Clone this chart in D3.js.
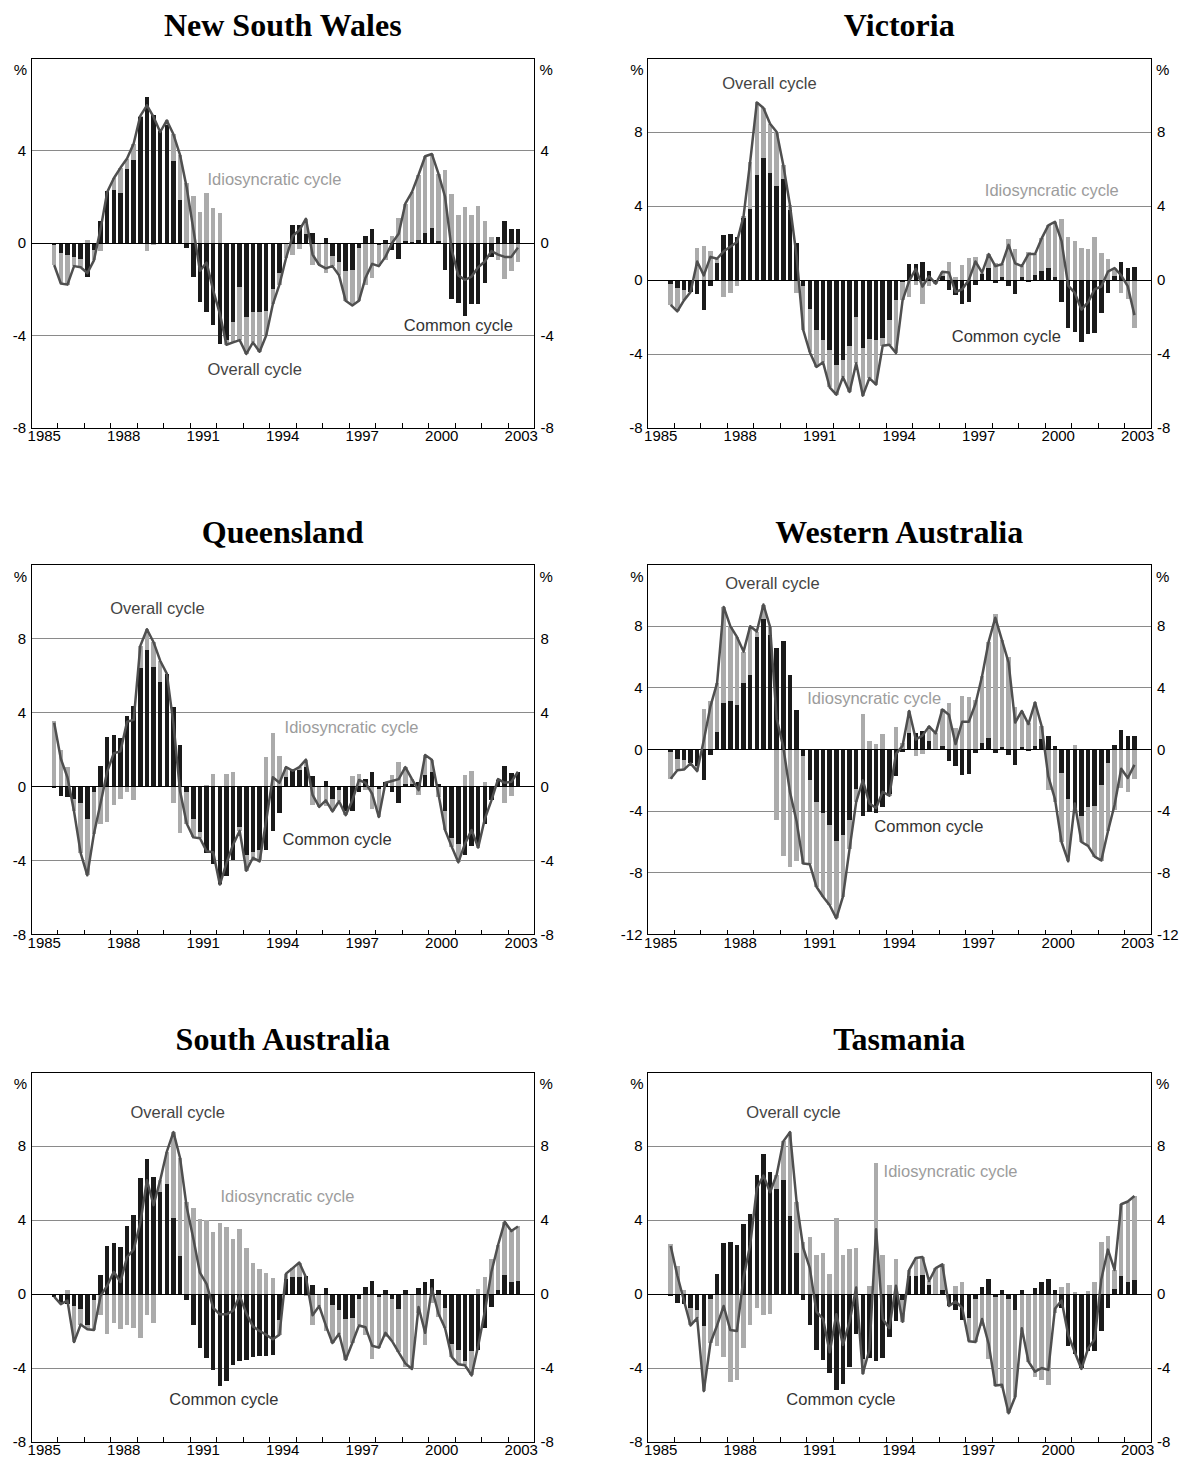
<!DOCTYPE html>
<html>
<head>
<meta charset="utf-8">
<script src="https://cdn.jsdelivr.net/npm/d3@7"></script>
<style>
  body { margin: 0; background: #fff; }
  text { font-family: 'Liberation Sans', Arial, sans-serif; }
</style>
</head>
<body>
<script>
const W = 1185, H = 1458;

// quarterly observations, 1985Q4 to 2003Q2
const quarters = [
  '1985Q4',
  '1986Q1','1986Q2','1986Q3','1986Q4','1987Q1','1987Q2','1987Q3','1987Q4',
  '1988Q1','1988Q2','1988Q3','1988Q4','1989Q1','1989Q2','1989Q3','1989Q4',
  '1990Q1','1990Q2','1990Q3','1990Q4','1991Q1','1991Q2','1991Q3','1991Q4',
  '1992Q1','1992Q2','1992Q3','1992Q4','1993Q1','1993Q2','1993Q3','1993Q4',
  '1994Q1','1994Q2','1994Q3','1994Q4','1995Q1','1995Q2','1995Q3','1995Q4',
  '1996Q1','1996Q2','1996Q3','1996Q4','1997Q1','1997Q2','1997Q3','1997Q4',
  '1998Q1','1998Q2','1998Q3','1998Q4','1999Q1','1999Q2','1999Q3','1999Q4',
  '2000Q1','2000Q2','2000Q3','2000Q4','2001Q1','2001Q2','2001Q3','2001Q4',
  '2002Q1','2002Q2','2002Q3','2002Q4','2003Q1','2003Q2'
];
const yearLabels = [1985, 1988, 1991, 1994, 1997, 2000, 2003];

const nswCommon = [-0.1,-0.45,-0.5,-0.6,-0.7,-1.45,-0.3,0.95,2.25,2.3,2.15,3.2,3.6,5.45,6.3,5.55,4.85,5.1,3.55,1.85,
  -0.2,-1.45,-2.55,-3.0,-3.55,-4.35,-4.2,-3.4,-1.9,-3.2,-3.0,-3.0,-2.95,-2.0,-1.3,-0.05,0.8,0.8,0.4,0.45,
  -0.05,0.2,-0.55,-0.8,-1.2,-1.15,-0.2,0.3,0.6,-0.1,0.15,-0.3,-0.7,0.1,0.05,0.15,0.45,0.65,0.1,-1.15,
  -2.4,-2.6,-3.15,-2.65,-2.65,-1.75,-0.6,0.25,0.95,0.6,0.6];
const nswIdio = [-0.85,-1.3,-1.3,-0.4,-0.35,0.15,-0.45,-0.35,-0.05,0.5,1.1,0.45,0.7,0.05,-0.35,-0.1,-0.05,0.2,1.15,1.95,
  2.6,2.05,1.35,2.15,1.5,1.3,-0.2,-0.9,-2.3,-1.6,-1.3,-1.7,-1.05,-0.65,-0.5,-0.6,-0.5,-0.25,0.65,-0.95,
  -0.9,-1.3,-0.45,-0.6,-1.3,-1.55,-2.3,-1.8,-1.5,-0.9,-0.75,0.3,1.1,1.6,2.15,2.8,3.3,3.2,2.9,3.15,
  2.1,1.2,1.55,1.2,1.6,0.95,0.25,-0.75,-1.55,-1.2,-0.8];
const nswOverall = [-0.95,-1.75,-1.8,-1.0,-1.05,-1.3,-0.75,0.6,2.2,2.8,3.25,3.65,4.3,5.5,5.95,5.45,4.8,5.3,4.7,3.8,
  2.4,0.6,-1.2,-0.85,-2.05,-3.05,-4.4,-4.3,-4.2,-4.8,-4.3,-4.7,-4.0,-2.65,-1.8,-0.65,0.3,0.55,1.05,-0.5,
  -0.95,-1.1,-1.0,-1.4,-2.5,-2.7,-2.5,-1.5,-0.9,-1.0,-0.6,0.0,0.4,1.7,2.2,2.95,3.75,3.85,3.0,2.0,
  -0.3,-1.4,-1.6,-1.45,-1.05,-0.8,-0.35,-0.5,-0.6,-0.6,-0.2];

const vicCommon = [-0.2,-0.45,-0.55,-0.65,-0.75,-1.6,-0.3,0.9,2.45,2.5,2.35,3.35,3.85,5.7,6.6,5.8,5.1,5.45,3.8,2.0,
  -0.3,-1.55,-2.7,-3.25,-3.8,-4.6,-4.3,-3.55,-2.0,-3.7,-3.2,-3.25,-3.15,-2.15,-1.1,-0.1,0.85,0.85,0.95,0.5,
  -0.1,0.2,-0.55,-0.8,-1.3,-1.2,-0.25,0.3,0.65,-0.15,0.15,-0.3,-0.75,0.15,-0.1,0.25,0.5,0.65,0.15,-1.2,
  -2.6,-2.8,-3.35,-2.9,-2.85,-1.8,-0.7,0.2,0.95,0.65,0.7];
const vicIdio = [-1.15,-1.25,-0.55,0.0,1.75,1.85,1.55,0.25,-0.9,-0.7,-0.3,0.1,2.55,3.9,2.7,2.65,2.9,0.75,0.25,-0.7,
  -2.4,-2.35,-2.0,-1.2,-2.0,-1.6,-0.95,-2.5,-2.5,-2.55,-2.1,-2.4,-0.4,-1.35,-2.85,-1.0,-0.9,-0.25,-1.3,-0.3,
  -0.1,0.25,0.95,0.15,0.8,1.2,1.25,0.1,0.75,0.9,0.7,2.2,1.65,0.6,1.5,1.15,1.75,2.3,3.0,3.3,
  2.3,2.1,1.75,1.7,2.35,1.45,1.15,0.45,-0.7,-1.0,-2.6];
const vicOverall = [-1.35,-1.7,-1.1,-0.65,1.0,0.25,1.25,1.15,1.55,1.8,2.05,3.45,6.4,9.6,9.3,8.45,8.0,6.2,4.05,1.3,
  -2.7,-3.9,-4.7,-4.45,-5.8,-6.2,-5.25,-6.05,-4.5,-6.25,-5.3,-5.65,-3.55,-3.5,-3.95,-1.1,-0.05,0.6,-0.35,0.2,
  -0.2,0.45,0.4,-0.65,-0.5,0.0,1.0,0.4,1.4,0.75,0.85,1.9,0.9,0.75,1.4,1.4,2.25,2.95,3.15,2.1,
  -0.3,-0.7,-1.6,-1.2,-0.5,-0.35,0.45,0.65,0.25,-0.35,-1.9];

const qldCommon = [-0.1,-0.5,-0.55,-0.7,-0.9,-1.75,-0.3,1.1,2.7,2.8,2.6,3.8,4.35,6.4,7.4,6.45,5.65,6.1,4.3,2.25,
  -0.3,-1.75,-2.45,-3.6,-4.2,-5.25,-4.85,-3.95,-2.2,-3.7,-3.55,-3.45,-3.45,-2.4,-1.45,0.5,0.9,0.9,1.05,0.55,
  0.0,0.3,-0.7,-0.2,-1.3,-1.3,-0.3,0.4,0.8,-0.15,0.25,-0.3,-0.9,0.15,0.15,0.25,0.6,0.8,0.15,-1.3,
  -2.8,-3.1,-3.7,-3.2,-3.2,-2.0,-0.75,0.35,1.1,0.75,0.8];
const qldIdio = [3.55,2.0,1.05,-0.65,-2.7,-3.05,-2.25,-2.0,-1.9,-1.0,-0.7,-0.3,-0.75,1.2,1.1,1.35,1.15,0.0,-0.9,-2.5,
  -1.7,-1.0,-0.35,0.1,0.65,-0.05,0.7,0.8,-0.2,-0.85,-0.3,-0.6,1.6,2.9,1.65,0.55,-0.05,0.15,0.4,-1.0,
  -1.1,-1.05,-0.65,-0.6,-0.25,0.55,0.65,-0.2,-1.2,-1.5,-0.05,0.6,1.3,0.9,0.25,-0.45,1.1,0.65,-0.55,-1.05,
  -0.45,-1.0,0.6,0.85,-0.1,0.25,0.0,0.05,-0.9,-0.5,0.0];
const qldOverall = [3.45,1.5,0.5,-1.35,-3.6,-4.8,-2.55,-0.9,0.8,1.8,1.9,3.5,3.6,7.6,8.5,7.8,6.8,6.1,3.4,-0.25,
  -2.0,-2.75,-2.8,-3.5,-3.55,-5.3,-4.15,-3.15,-2.4,-4.55,-3.85,-4.05,-1.85,0.5,0.2,1.05,0.85,1.05,1.45,-0.45,
  -1.1,-0.75,-1.35,-0.8,-1.55,-0.75,0.35,0.2,-0.4,-1.65,0.2,0.3,0.4,1.05,0.4,-0.2,1.7,1.45,-0.4,-2.35,
  -3.25,-4.1,-3.1,-2.35,-3.3,-1.75,-0.75,0.4,0.2,0.25,0.8];

const waCommon = [-0.15,-0.6,-0.7,-0.85,-1.05,-2.0,-0.35,1.15,3.0,3.15,2.9,4.3,4.85,7.3,8.45,7.45,6.6,7.05,4.85,2.55,
  -0.4,-1.95,-3.4,-4.15,-4.9,-5.95,-5.55,-4.55,-2.55,-4.3,-4.05,-4.15,-3.75,-2.9,-1.75,-0.15,1.05,1.1,1.2,0.55,
  -0.05,0.2,-0.75,-1.05,-1.65,-1.6,-0.25,0.4,0.75,-0.25,0.15,-0.35,-1.0,0.15,-0.1,0.2,0.65,0.9,0.2,-1.5,
  -3.2,-3.8,-4.3,-3.75,-3.65,-2.3,-0.85,0.3,1.25,0.9,0.9];
const waIdio = [-1.75,-0.75,-0.6,-0.05,-0.35,2.6,3.15,3.15,6.25,4.85,4.4,2.05,3.15,0.35,0.95,0.5,-4.6,-6.9,-7.6,-7.2,
  -7.0,-5.5,-5.5,-5.4,-5.2,-5.0,-4.0,-1.9,-0.85,2.3,0.55,0.35,1.0,-0.1,1.45,0.4,1.45,-0.45,-0.3,0.95,
  1.1,2.4,3.0,1.4,3.45,3.4,3.2,4.35,6.25,8.8,6.95,6.0,2.75,2.35,1.75,2.85,0.85,-2.65,-3.4,-4.5,
  -4.05,0.3,-1.7,-2.5,-3.3,-4.9,-4.45,-3.9,-2.5,-2.75,-1.9];
const waOverall = [-1.9,-1.35,-1.3,-0.9,-1.4,0.6,2.8,4.3,9.25,8.0,7.3,6.35,8.0,7.65,9.4,7.95,2.0,0.15,-2.75,-4.65,
  -7.4,-7.45,-8.9,-9.55,-10.1,-10.95,-9.55,-6.45,-3.4,-2.0,-3.5,-3.8,-2.75,-3.0,-0.3,0.25,2.5,0.65,0.9,1.5,
  1.05,2.6,2.25,0.35,1.8,1.8,2.95,4.75,7.0,8.55,7.1,5.65,1.75,2.5,1.65,3.05,1.5,-1.75,-3.2,-6.0,
  -7.25,-3.5,-6.0,-6.25,-6.95,-7.2,-5.3,-3.6,-1.25,-1.85,-1.0];

const saCommon = [-0.15,-0.5,-0.55,-0.65,-0.8,-1.7,-0.3,1.05,2.6,2.75,2.55,3.7,4.25,6.25,7.3,6.35,5.5,5.95,4.1,2.05,
  -0.3,-1.65,-2.9,-3.45,-4.1,-4.95,-4.7,-3.85,-3.6,-3.55,-3.4,-3.35,-3.35,-3.3,-1.4,0.8,0.9,0.9,1.0,0.5,
  -0.05,0.3,-0.6,-0.85,-1.35,-1.3,-0.25,0.4,0.7,-0.15,0.2,-0.25,-0.8,0.2,0.0,0.3,0.65,0.8,0.2,-0.75,
  -2.7,-3.0,-3.6,-3.1,-3.05,-1.85,-0.7,0.2,1.05,0.65,0.7];
const saIdio = [0.0,-0.05,0.2,-1.95,-0.85,-0.2,-1.65,-1.15,-2.15,-1.55,-1.9,-1.7,-1.85,-2.4,-1.15,-1.55,0.65,1.75,4.65,5.3,
  5.0,4.65,4.05,4.0,3.35,3.85,3.6,2.95,3.5,2.5,1.65,1.35,1.15,0.85,-0.8,0.3,0.5,0.8,-0.1,-1.65,
  -0.6,-2.0,-2.05,-1.3,-2.2,-1.35,-1.45,-2.2,-3.5,-2.75,-2.3,-2.3,-2.35,-3.95,-4.05,-1.0,-2.75,-0.5,-1.25,-1.1,
  -0.7,-0.8,-0.25,-1.3,0.25,0.9,1.9,2.45,2.85,2.75,2.95];
const saOverall = [-0.15,-0.55,-0.35,-2.6,-1.65,-1.9,-1.95,-0.1,0.45,1.2,0.65,2.0,2.4,3.85,6.15,4.8,6.15,7.7,8.75,7.35,
  4.7,3.0,1.15,0.55,-0.75,-1.1,-1.1,-0.9,-0.1,-1.05,-1.75,-2.0,-2.2,-2.45,-2.2,1.1,1.4,1.7,0.9,-1.15,
  -0.65,-1.7,-2.65,-2.15,-3.55,-2.65,-1.7,-1.8,-2.8,-2.9,-2.1,-2.55,-3.15,-3.75,-4.05,-0.7,-2.1,0.3,-1.05,-1.85,
  -3.4,-3.8,-3.85,-4.4,-2.8,-0.95,1.2,2.65,3.9,3.4,3.65];

const tasCommon = [-0.1,-0.5,-0.55,-0.75,-0.85,-1.75,-0.25,1.1,2.75,2.8,2.65,3.8,4.35,6.45,7.55,6.6,5.7,6.15,4.2,2.2,
  -0.3,-1.7,-3.05,-3.55,-4.25,-5.2,-4.85,-3.95,-2.15,-3.5,-3.45,-3.6,-3.45,-2.35,-1.45,-0.3,0.95,0.95,1.05,0.5,
  0.0,0.2,-0.65,-0.85,-1.4,-1.3,-0.25,0.4,0.8,-0.15,0.2,-0.25,-0.85,0.2,-0.05,0.3,0.65,0.8,0.2,-0.75,
  -2.8,-3.25,-4.0,-3.1,-3.1,-2.0,-0.75,0.25,1.0,0.65,0.75];
const tasIdio = [2.7,1.5,0.2,-0.95,-0.45,-3.5,-2.4,-2.8,-3.4,-4.75,-4.65,-2.9,-1.7,-0.75,-1.15,-1.1,0.75,2.1,4.55,2.8,
  2.8,3.1,2.1,2.2,1.1,4.1,2.1,2.45,2.5,-0.8,0.45,7.1,2.1,0.5,1.9,-1.2,0.35,1.0,0.95,0.2,
  1.4,1.4,0.0,0.45,0.65,-1.25,-2.35,-1.75,-3.5,-4.8,-5.1,-6.2,-4.7,-2.05,-3.6,-4.5,-4.65,-4.9,-1.0,0.4,
  0.6,0.1,-0.05,0.15,0.65,2.8,3.15,1.05,3.85,4.35,4.55];
const tasOverall = [2.6,1.0,-0.35,-1.7,-1.3,-5.25,-2.65,-1.7,-0.65,-1.95,-2.0,0.9,2.65,5.7,6.4,5.5,6.45,8.25,8.75,5.0,
  2.5,1.4,-0.95,-1.35,-3.15,-1.1,-2.75,-1.5,0.35,-4.3,-3.0,3.5,-1.35,-1.85,0.45,-1.5,1.3,1.95,2.0,0.7,
  1.4,1.6,-0.65,-0.4,-0.75,-2.55,-2.6,-1.35,-2.7,-4.95,-4.9,-6.45,-5.55,-1.85,-3.65,-4.2,-4.0,-4.1,-0.8,-0.35,
  -2.2,-3.15,-4.05,-2.95,-2.45,0.8,2.4,1.3,4.85,5.0,5.3];

// panel layout
const colX = [31, 647.5], rowY = [58, 564.5, 1072];
const plotW = 503.5, plotH = 370;

const panels = [
  {title: 'New South Wales', col: 0, row: 0, domain: [-8, 8],
   common: nswCommon, idio: nswIdio, overall: nswOverall,
   notes: [['Idiosyncratic cycle', 'idio', 1991.66, 2.78], ['Common cycle', 'common', 1999.07, -3.53], ['Overall cycle', 'overall', 1991.66, -5.43]]},
  {title: 'Victoria', col: 1, row: 0, domain: [-8, 12],
   common: vicCommon, idio: vicIdio, overall: vicOverall,
   notes: [['Overall cycle', 'overall', 1987.82, 10.65], ['Idiosyncratic cycle', 'idio', 1997.73, 4.86], ['Common cycle', 'common', 1996.48, -3.03]]},
  {title: 'Queensland', col: 0, row: 1, domain: [-8, 12],
   common: qldCommon, idio: qldIdio, overall: qldOverall,
   notes: [['Overall cycle', 'overall', 1987.99, 9.64], ['Idiosyncratic cycle', 'idio', 1994.57, 3.2], ['Common cycle', 'common', 1994.49, -2.85]]},
  {title: 'Western Australia', col: 1, row: 1, domain: [-12, 12],
   common: waCommon, idio: waIdio, overall: waOverall,
   notes: [['Overall cycle', 'overall', 1987.93, 10.8], ['Idiosyncratic cycle', 'idio', 1991.03, 3.37], ['Common cycle', 'common', 1993.56, -4.95]]},
  {title: 'South Australia', col: 0, row: 2, domain: [-8, 12],
   common: saCommon, idio: saIdio, overall: saOverall,
   notes: [['Overall cycle', 'overall', 1988.75, 9.82], ['Idiosyncratic cycle', 'idio', 1992.15, 5.28], ['Common cycle', 'common', 1990.22, -5.69]]},
  {title: 'Tasmania', col: 1, row: 2, domain: [-8, 12],
   common: tasCommon, idio: tasIdio, overall: tasOverall,
   notes: [['Overall cycle', 'overall', 1988.73, 9.82], ['Idiosyncratic cycle', 'idio', 1993.91, 6.63], ['Common cycle', 'common', 1990.24, -5.69]]}
];

const colors = {common: '#1a1a1a', idio: '#ababab', overall: '#4f4f4f', grid: '#8a8a8a'};
const noteColor = {idio: '#9c9c9c', common: '#333333', overall: '#444444'};

const qx = (q) => +q.slice(0, 4) + (+q.slice(5) - 0.5) / 4;

const svg = d3.select('body').append('svg')
  .attr('width', W)
  .attr('height', H);

panels.forEach((p) => {
  const left = colX[p.col], top = rowY[p.row];
  const g = svg.append('g');

  const x = d3.scaleLinear().domain([1985, 2004]).range([left, left + plotW]);
  const y = d3.scaleLinear().domain(p.domain).range([top + plotH, top]);

  const rows = quarters.map((q, i) => ({q: q, common: p.common[i], idio: p.idio[i], overall: p.overall[i]}));

  // title
  g.append('text')
    .attr('x', left + plotW / 2)
    .attr('y', top - 22)
    .attr('text-anchor', 'middle')
    .style('font-family', "'Liberation Serif', 'Times New Roman', serif")
    .style('font-weight', 'bold')
    .style('font-size', '32px')
    .text(p.title);

  // horizontal gridlines
  const ticks = d3.range(p.domain[0], p.domain[1] + 0.1, 4);
  g.selectAll('line.grid')
    .data(ticks.filter((t) => t !== 0 && t !== p.domain[0] && t !== p.domain[1]))
    .enter().append('line')
    .attr('x1', left).attr('x2', left + plotW)
    .attr('y1', (d) => y(d)).attr('y2', (d) => y(d))
    .attr('stroke', colors.grid)
    .attr('stroke-width', 1)
    .attr('shape-rendering', 'crispEdges');

  // stacked bars, positives up and negatives down
  const series = d3.stack().keys(['common', 'idio']).offset(d3.stackOffsetDiverging)(rows);
  const bw = 4.4;
  series.forEach((s) => {
    g.append('g').selectAll('rect')
      .data(s)
      .enter().append('rect')
      .attr('x', (d) => x(qx(d.data.q)) - bw / 2)
      .attr('width', bw)
      .attr('y', (d) => y(Math.max(d[0], d[1])))
      .attr('height', (d) => Math.abs(y(d[0]) - y(d[1])))
      .attr('fill', colors[s.key])
      .attr('shape-rendering', 'crispEdges');
  });

  // zero line
  g.append('line')
    .attr('x1', left).attr('x2', left + plotW)
    .attr('y1', y(0)).attr('y2', y(0))
    .attr('stroke', '#000')
    .attr('shape-rendering', 'crispEdges');

  // overall cycle
  const line = d3.line()
    .x((d) => x(qx(d.q)))
    .y((d) => y(d.overall));
  g.append('path')
    .attr('d', line(rows))
    .attr('fill', 'none')
    .attr('stroke', colors.overall)
    .attr('stroke-width', 2.5)
    .attr('stroke-linejoin', 'round');

  // frame
  g.append('rect')
    .attr('x', left).attr('y', top)
    .attr('width', plotW).attr('height', plotH)
    .attr('fill', 'none')
    .attr('stroke', '#000')
    .attr('shape-rendering', 'crispEdges');

  // year ticks, inside the frame
  g.selectAll('line.xt')
    .data(d3.range(1986, 2004))
    .enter().append('line')
    .attr('x1', (d) => x(d)).attr('x2', (d) => x(d))
    .attr('y1', top + plotH).attr('y2', top + plotH - 5)
    .attr('stroke', '#000')
    .attr('shape-rendering', 'crispEdges');

  g.selectAll('text.xl')
    .data(yearLabels)
    .enter().append('text')
    .attr('x', (d) => x(d + 0.5))
    .attr('y', top + plotH + 13)
    .attr('text-anchor', 'middle')
    .style('font-size', '15px')
    .text((d) => d);

  // y labels on both sides
  const ylab = ticks.filter((t) => t !== p.domain[1]);
  [['end', left - 5], ['start', left + plotW + 6]].forEach(([anchor, tx]) => {
    g.selectAll(null)
      .data(ylab)
      .enter().append('text')
      .attr('x', tx)
      .attr('y', (d) => y(d) + 5)
      .attr('text-anchor', anchor)
      .style('font-size', '15px')
      .text((d) => d);
    g.append('text')
      .attr('x', anchor === 'end' ? tx + 1 : tx - 1)
      .attr('y', top + 17)
      .attr('text-anchor', anchor)
      .style('font-size', '15px')
      .text('%');
  });

  // annotations
  p.notes.forEach(([txt, key, nx, ny]) => {
    g.append('text')
      .attr('x', x(nx))
      .attr('y', y(ny) + 6)
      .attr('fill', noteColor[key])
      .style('font-size', '16.5px')
      .text(txt);
  });
});
</script>
</body>
</html>
